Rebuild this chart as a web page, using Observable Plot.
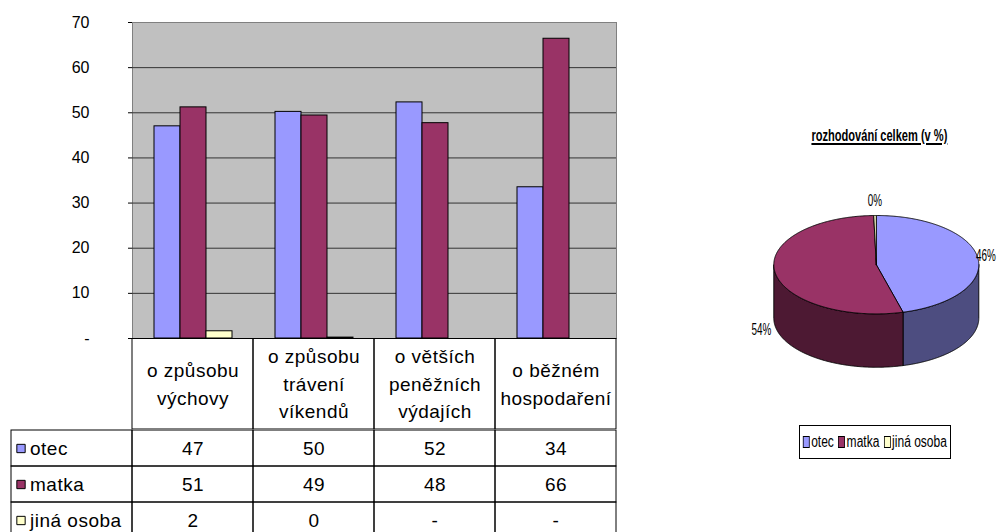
<!DOCTYPE html>
<html><head><meta charset="utf-8">
<script src="https://cdn.jsdelivr.net/npm/d3@7"></script>
<script src="https://cdn.jsdelivr.net/npm/@observablehq/plot@0.6"></script>
<style>
html,body{margin:0;padding:0;background:#fff;}
#root{position:relative;width:999px;height:532px;overflow:hidden;background:#fff;font-family:"Liberation Sans",Arial,sans-serif;color:#000;}
.layer{position:absolute;}
.tbl text{letter-spacing:0.5px;}
#title{position:absolute;left:775px;width:200px;top:127px;text-align:center;font-weight:bold;font-size:17px;line-height:18px;white-space:nowrap;}
#title span{display:inline-block;text-decoration:underline;text-decoration-thickness:2px;text-underline-offset:2px;transform-origin:center;}
#legend{position:absolute;left:799px;top:425px;width:152px;height:34px;box-sizing:border-box;border:1px solid #000;display:flex;align-items:center;justify-content:center;}
#legend .inner{display:flex;align-items:center;white-space:nowrap;font-size:16px;transform-origin:center;}
#legend .sw{display:inline-block;width:9px;height:12px;border:1px solid #000;box-sizing:border-box;margin-right:2px;}
#legend .it{display:flex;align-items:center;margin-right:6px;}
#legend .it:last-child{margin-right:0;}
</style></head>
<body><div id="root"></div>
<script>
// ---------- data ----------
const categories = ["o způsobu\nvýchovy", "o způsobu\ntrávení\nvíkendů", "o větších\npeněžních\nvýdajích", "o běžném\nhospodaření"];
const series = ["otec", "matka", "jiná osoba"];
const colors = ["#9999FF", "#993366", "#FFFFCC"];
const sideColors = ["#4D4D80", "#4D1933", "#80806A"];
const otec = [47.0, 50.2, 52.3, 33.5];
const matka = [51.2, 49.4, 47.7, 66.4];
const jinaOsoba = [1.6, 0.2, null, null];
const yTicks = [0, 10, 20, 30, 40, 50, 60, 70];
const pieTitle = "rozhodování celkem (v %)";
const pieValues = [45.8, 53.8, 0.4];

// ---------- derived tables ----------
const seriesValues = [otec, matka, jinaOsoba];
const barData = categories.flatMap((c, i) => series.map((s, j) => ({cat: c, series: s, value: seriesValues[j][i]})))
  .filter(d => d.value != null);
const fmt = v => v == null ? "-" : String(Math.round(v));
const tableCells = series.flatMap((s, j) => categories.map((c, i) => ({row: s, col: c, label: fmt(seriesValues[j][i])})));
const LAB = "legend";
const gridCells = series.flatMap(s => [LAB, ...categories].map(c => ({row: s, col: c})));

const FONT = '"Liberation Sans", Arial, sans-serif';
const root = document.getElementById("root");
function place(node, left, top, w) {
  const d = document.createElement("div");
  d.className = "layer";
  d.style.left = left + "px"; d.style.top = top + "px"; d.style.width = w + "px";
  d.appendChild(node); root.appendChild(d); return d;
}

// ---------- bar chart background + axis ----------
const W = 640;
const bg = Plot.plot({
  width: W, height: 360, marginTop: 22, marginBottom: 22, marginLeft: 132, marginRight: 24,
  style: {background: "none", fontSize: "16px", fontFamily: FONT, maxWidth: "none", color: "#000"},
  y: {domain: [0, 70], ticks: yTicks, tickFormat: d => d === 0 ? "-" : String(d), tickSize: 4, tickPadding: 39, line: true, label: null},
  marks: [
    Plot.frame({fill: "#C0C0C0", stroke: "#808080"}),
    Plot.ruleY(yTicks.filter(t => t > 0 && t < 70), {stroke: "#333"}),
    Plot.ruleY([0], {stroke: "#000"})
  ]
});
place(bg, 0, 0, W);

// ---------- bars (faceted by category) ----------
const bars = Plot.plot({
  width: W, height: 360, marginTop: 22, marginBottom: 22, marginLeft: 132, marginRight: 24,
  style: {background: "none", maxWidth: "none"},
  facet: {data: barData, x: "cat"},
  fx: {domain: categories, padding: 0, axis: null},
  x: {domain: series, paddingInner: 0, paddingOuter: 0.75, axis: null},
  y: {domain: [0, 70], axis: null},
  color: {domain: series, range: colors},
  marks: [
    Plot.barY(barData, {x: "series", y: "value", fill: "series", stroke: "#000", strokeWidth: 1})
  ]
});
place(bars, 0, 0, W);

// ---------- data table header ----------
const head = Plot.plot({
  width: W, height: 91, marginTop: 0, marginBottom: 0, marginLeft: 132, marginRight: 24,
  style: {background: "none", fontSize: "19px", fontFamily: FONT, maxWidth: "none", color: "#000"},
  x: {domain: categories, padding: 0, axis: null},
  marks: [
    Plot.cell(categories, {x: d => d, fill: "none", stroke: "#000", inset: 0}),
    Plot.text(categories, {x: d => d, text: d => d, fontSize: 19, lineHeight: 1.45, fill: "#000", dy: -2})
  ]
});
head.classList.add("tbl");
place(head, 0, 338, W);

// ---------- data table body ----------
const body = Plot.plot({
  width: W, height: 110, marginTop: 0, marginBottom: 0, marginLeft: 11, marginRight: 24,
  style: {background: "none", fontSize: "19px", fontFamily: FONT, maxWidth: "none", color: "#000"},
  x: {domain: [LAB, ...categories], padding: 0, axis: null},
  y: {domain: series, padding: 0, axis: null},
  color: {domain: series, range: colors},
  marks: [
    Plot.cell(gridCells, {x: "col", y: "row", fill: "none", stroke: "#000", inset: 0}),
    Plot.text(tableCells, {x: "col", y: "row", text: "label", fontSize: 19, fill: "#000"}),
    Plot.dot(series, {x: () => LAB, y: d => d, symbol: "square", r: 4.7, fill: d => d, stroke: "#000", strokeWidth: 1, dx: -51}),
    Plot.text(series, {x: () => LAB, y: d => d, text: d => d, textAnchor: "start", dx: -42, fontSize: 19, fill: "#000"})
  ]
});
body.classList.add("tbl");
place(body, 0, 429, W);

// ---------- 3D pie ----------
const depth = 1.085;
const arcs = d3.pie().sort(null).value(d => d)(pieValues);
const step = Math.PI / 360;
function arcPts(a0, a1, off) {
  const n = Math.max(2, Math.ceil((a1 - a0) / step));
  return d3.range(n + 1).map(k => {
    const a = a0 + (a1 - a0) * k / n;
    return [Math.sin(a), Math.cos(a) - off];
  });
}
const sidePts = [];
const topPts = [];
arcs.forEach((a, i) => {
  const s = Math.max(a.startAngle, Math.PI / 2), e = Math.min(a.endAngle, 3 * Math.PI / 2);
  if (e > s) {
    const up = arcPts(s, e, 0), dn = arcPts(s, e, depth).reverse();
    [...up, ...dn, up[0]].forEach(p => sidePts.push({x: p[0], y: p[1], key: series[i], fill: sideColors[i]}));
  }
  [[0, 0], ...arcPts(a.startAngle, a.endAngle, 0), [0, 0]].forEach(p => topPts.push({x: p[0], y: p[1], key: series[i], fill: colors[i]}));
});
const total = d3.sum(pieValues);
const labels = arcs.map((a, i) => {
  const m = (a.startAngle + a.endAngle) / 2, s = Math.sin(m), c = Math.cos(m);
  return {
    x: s * (s > 0 ? 0.98 : 0.995),
    y: c * 1.3 - (c < 0 ? depth + 0.05 : 0),
    text: Math.round(pieValues[i] / total * 100) + "%",
    anchor: Math.abs(s) < 0.3 ? "middle" : (s > 0 ? "start" : "end")
  };
});
const pie = Plot.plot({
  width: 299, height: 380, marginTop: 0, marginBottom: 0, marginLeft: 0, marginRight: 0,
  style: {background: "none", fontSize: "16px", fontFamily: FONT, maxWidth: "none", color: "#000"},
  x: {domain: [-1, 1], range: [73.3, 278.3], axis: null},
  y: {domain: [-1, 1], range: [213.4, 115], axis: null},
  color: {type: "identity"},
  marks: [
    Plot.line(sidePts, {x: "x", y: "y", z: "key", fill: "fill", stroke: "#000", strokeWidth: 0.9}),
    Plot.line(topPts, {x: "x", y: "y", z: "key", fill: "fill", stroke: "#000", strokeWidth: 0.9}),
    Plot.text(labels.filter(d => d.anchor === "start"), {x: "x", y: "y", text: "text", textAnchor: "start", fill: "#000"}),
    Plot.text(labels.filter(d => d.anchor === "end"), {x: "x", y: "y", text: "text", textAnchor: "end", dx: -4, fill: "#000"}),
    Plot.text(labels.filter(d => d.anchor === "middle"), {x: "x", y: "y", text: "text", textAnchor: "middle", fill: "#000"})
  ]
});
place(pie, 700, 100, 299);
// narrow the pie label glyphs horizontally around their anchor point
pie.querySelectorAll("text").forEach(t => {
  const tr = t.getAttribute("transform");
  if (tr) {
    t.setAttribute("transform", tr + " scale(0.62,1)");
  } else {
    const x = +(t.getAttribute("x") || 0), y = +(t.getAttribute("y") || 0);
    t.setAttribute("x", 0); t.setAttribute("y", 0);
    t.setAttribute("transform", `translate(${x},${y}) scale(0.62,1)`);
  }
});

// ---------- pie title ----------
const title = document.createElement("div");
title.id = "title";
const tspan = document.createElement("span");
tspan.textContent = pieTitle;
title.appendChild(tspan);
root.appendChild(title);
tspan.style.transform = "scaleX(" + (136 / tspan.getBoundingClientRect().width).toFixed(3) + ")";

// ---------- pie legend ----------
const legend = document.createElement("div");
legend.id = "legend";
const inner = document.createElement("div");
inner.className = "inner";
series.forEach((s, i) => {
  const it = document.createElement("span"); it.className = "it";
  const sw = document.createElement("span"); sw.className = "sw"; sw.style.background = colors[i];
  const tx = document.createElement("span"); tx.textContent = s;
  it.appendChild(sw); it.appendChild(tx); inner.appendChild(it);
});
legend.appendChild(inner);
root.appendChild(legend);
inner.style.transform = "scaleX(" + (144 / inner.getBoundingClientRect().width).toFixed(3) + ")";
</script></body></html>
